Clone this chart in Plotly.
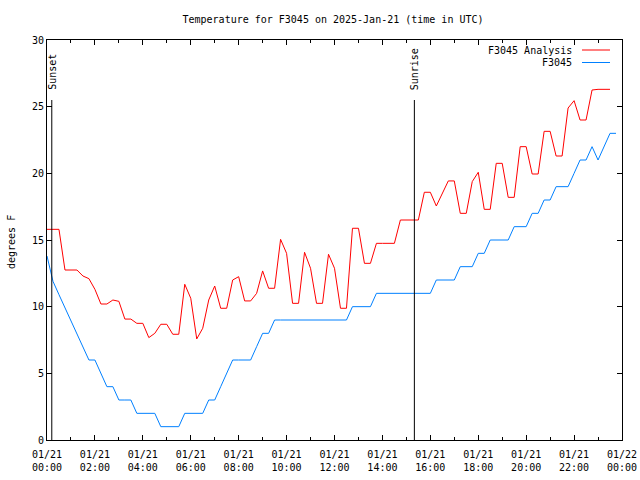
import pandas as pd
import plotly.graph_objects as go

START = "2025-01-21 00:00"
STEP = "15min"

analysis_temp = [
    15.8, 15.8, 15.8, 12.75, 12.75, 12.75, 12.3, 12.1, 11.3, 10.2, 10.2, 10.5,
    10.4, 9.07, 9.07, 8.75, 8.75, 7.68, 8.0, 8.68, 8.68, 7.93, 7.93, 11.68,
    10.63, 7.58, 8.38, 10.5, 11.55, 9.88, 9.88, 12.0, 12.25, 10.43, 10.43, 11.0,
    12.68, 11.38, 11.38, 15.05, 14.0, 10.25, 10.25, 14.08, 12.88, 10.25, 10.25, 13.93,
    12.88, 9.88, 9.88, 15.88, 15.88, 13.25, 13.25, 14.75, 14.75, 14.75, 14.75, 16.5,
    16.5, 16.5, 16.5, 18.58, 18.58, 17.55, 18.5, 19.43, 19.43, 17.0, 17.0, 19.38,
    20.08, 17.3, 17.3, 20.75, 20.75, 18.2, 18.2, 22.0, 22.0, 19.95, 19.95, 23.15,
    23.15, 21.3, 21.3, 24.9, 25.45, 24.0, 24.0, 26.25, 26.3, 26.3, 26.3,
]

station_temp = [
    13.8, 11.9, 10.9, 9.9, 8.9, 7.9, 6.9, 6, 6, 5, 4, 4,
    3, 3, 3, 2, 2, 2, 2, 1, 1, 1, 1, 2,
    2, 2, 2, 3, 3, 4, 5, 6, 6, 6, 6, 7,
    8, 8, 9, 9, 9, 9, 9, 9, 9, 9, 9, 9,
    9, 9, 9, 10, 10, 10, 10, 11, 11, 11, 11, 11,
    11, 11, 11, 11, 11, 12, 12, 12, 12, 13, 13, 13,
    14, 14, 15, 15, 15, 15, 16, 16, 16, 17, 17, 18,
    18, 19, 19, 19, 20, 21, 21, 22, 21, 22, 23, 23,
]

analysis_times = pd.date_range(START, periods=len(analysis_temp), freq=STEP)
station_times = pd.date_range(START, periods=len(station_temp), freq=STEP)

x_tickvals = ["2025-01-21 %02d:00" % h for h in range(0, 24, 2)] + ["2025-01-22 00:00"]
x_ticktext = ["01/21<br>%02d:00" % h for h in range(0, 24, 2)] + ["01/22<br>00:00"]
y_tickvals = [0, 5, 10, 15, 20, 25, 30]

sun_events = ["Sunset", "Sunrise"]
sun_times = ["2025-01-21 00:12", "2025-01-21 15:20"]
sun_line_top = 25.5

series_names = ["F3045 Analysis", "F3045"]
series_colors = ["#ff0000", "#0080ff"]

FONT = "DejaVu Sans Mono"
FS = 10

fig = go.Figure()
fig.add_trace(go.Scatter(x=analysis_times, y=analysis_temp, mode="lines",
                         line=dict(color=series_colors[0], width=1),
                         name=series_names[0], showlegend=False))
fig.add_trace(go.Scatter(x=station_times, y=station_temp, mode="lines",
                         line=dict(color=series_colors[1], width=1),
                         name=series_names[1], showlegend=False))

shapes = []
annotations = []
for name, t in zip(sun_events, sun_times):
    shapes.append(dict(type="line", xref="x", yref="y", x0=t, x1=t, y0=0, y1=sun_line_top,
                       line=dict(color="black", width=1)))
    annotations.append(dict(text=name, x=t, xref="x", y=1 - 52 / 400, yref="paper",
                            textangle=-90, xanchor="center", yanchor="bottom",
                            showarrow=False, font=dict(family=FONT, size=FS, color="black")))

# legend drawn gnuplot-style: text right-aligned, sample line to the right
legend_y = [1 - 10 / 400, 1 - 22.5 / 400]
for name, color, ly in zip(series_names, series_colors, legend_y):
    annotations.append(dict(text=name, x=(574 - 47) / 575, xref="paper", y=ly, yref="paper",
                            xanchor="right", yanchor="middle", showarrow=False,
                            font=dict(family=FONT, size=FS, color="black")))
    shapes.append(dict(type="line", xref="paper", yref="paper",
                       x0=(582 - 47) / 575, x1=(610 - 47) / 575, y0=ly, y1=ly,
                       line=dict(color=color, width=1)))

annotations.append(dict(text="degrees F", x=(11 - 47) / 575, xref="paper", y=0.495, yref="paper",
                        textangle=-90, xanchor="center", yanchor="middle", showarrow=False,
                        font=dict(family=FONT, size=FS, color="black")))

fig.update_layout(
    width=640, height=480,
    margin=dict(l=47, r=18, t=40, b=40, pad=0),
    paper_bgcolor="white", plot_bgcolor="white",
    font=dict(family=FONT, size=FS, color="black"),
    title=dict(text="Temperature for F3045 on 2025-Jan-21 (time in UTC)",
               x=(333 - 47) / 575, xref="paper", xanchor="center",
               y=1 - 19 / 480, yref="container", yanchor="middle",
               font=dict(family=FONT, size=FS, color="black")),
    shapes=shapes, annotations=annotations,
    showlegend=False,
)
fig.update_xaxes(
    type="date", range=["2025-01-21 00:00", "2025-01-22 00:00"],
    tickmode="array", tickvals=x_tickvals, ticktext=x_ticktext,
    ticks="inside", ticklen=5, tickcolor="black", tickwidth=1,
    minor=dict(tickmode="linear", tick0="2025-01-21 00:00", dtick=3600000,
               ticks="inside", ticklen=3, tickcolor="black", showgrid=False),
    showline=True, linecolor="black", linewidth=1, mirror="allticks",
    showgrid=False, zeroline=False, automargin=False, ticklabelstandoff=5,
    tickfont=dict(family=FONT, size=FS, color="black"),
)
fig.update_yaxes(
    range=[0, 30], tickmode="array", tickvals=y_tickvals,
    ticks="inside", ticklen=5, tickcolor="black", tickwidth=1,
    showline=True, linecolor="black", linewidth=1, mirror="allticks",
    showgrid=False, zeroline=False, automargin=False,
    tickfont=dict(family=FONT, size=FS, color="black"),
)

fig.write_html("out.html", config={"displayModeBar": False},
               post_script="document.body.style.margin='0';")
